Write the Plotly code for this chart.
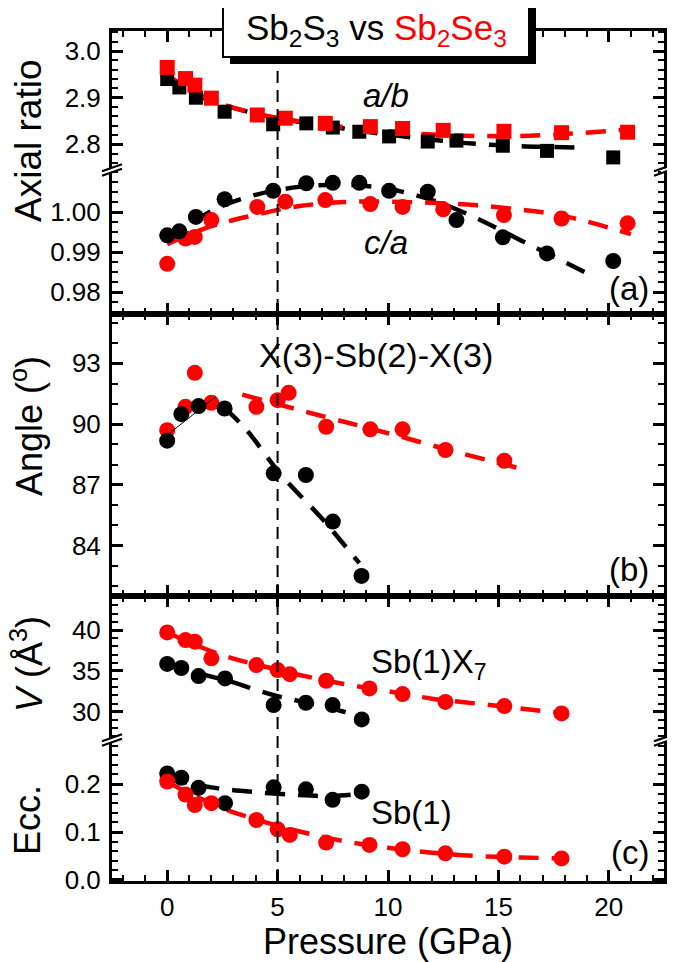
import plotly.graph_objects as go

# ---------------- data ----------------
# Panel (a): axial ratios
P_S = [0, 0.55, 1.3, 2.6, 4.8, 6.3, 7.5, 8.7, 10.05, 11.8, 13.1, 15.2, 17.2, 20.2]
AB_S = [2.940, 2.922, 2.900, 2.870, 2.843, 2.845, 2.836, 2.827, 2.817, 2.806, 2.808, 2.797, 2.786, 2.772]
CA_S = [0.9942, 0.9952, 0.9988, 1.0032, 1.0053, 1.0072, 1.0073, 1.0073, 1.0053, 1.0051, 0.9980, 0.9937, 0.9897, 0.9878]

P_SE = [0, 0.83, 1.25, 2.0, 4.08, 5.35, 7.16, 9.2, 10.66, 12.5, 15.25, 17.86, 20.85]
AB_SE = [2.965, 2.941, 2.927, 2.899, 2.863, 2.856, 2.845, 2.838, 2.834, 2.830, 2.828, 2.825, 2.826]
CA_SE = [0.9871, 0.9934, 0.9938, 0.9980, 1.0013, 1.0026, 1.0030, 1.0020, 1.0013, 1.0007, 0.99925, 0.9984, 0.9972]

# fit curves
FIT_AB_S_P = [0, 2, 4, 6, 8, 10, 12, 14, 16, 19]
FIT_AB_S = [2.936, 2.893, 2.866, 2.848, 2.834, 2.821, 2.810, 2.801, 2.796, 2.793]
FIT_AB_SE_P = [0, 2, 4, 6, 8, 10, 12, 14, 16, 18, 21]
FIT_AB_SE = [2.948, 2.895, 2.866, 2.849, 2.837, 2.828, 2.821, 2.818, 2.818, 2.822, 2.832]
FIT_CA_S_P = [0, 2, 4, 6, 8, 10, 12, 14, 16, 19]
FIT_CA_S = [0.9925, 1.0003, 1.0043, 1.0063, 1.0068, 1.0058, 1.0030, 0.9985, 0.9930, 0.9848]
FIT_CA_SE_P = [0, 2, 4, 6, 8, 10, 12, 14, 16, 18, 21]
FIT_CA_SE = [0.9920, 0.9965, 0.9993, 1.0015, 1.0025, 1.0026, 1.0023, 1.0017, 1.0006, 0.9990, 0.9945]

# Panel (b): X(3)-Sb(2)-X(3) angle
P_S_ANG = [0, 0.64, 1.42, 2.6, 4.82, 6.28, 7.5, 8.8]
ANG_S = [89.18, 90.49, 90.89, 90.77, 87.57, 87.49, 85.19, 82.51]
P_SE_ANG = [0, 0.83, 1.25, 2.0, 4.04, 5.0, 5.5, 7.2, 9.2, 10.66, 12.6, 15.27]
ANG_SE = [89.70, 90.85, 92.53, 91.05, 90.85, 91.18, 91.54, 89.87, 89.74, 89.74, 88.72, 88.19]

FIT_ANG_S_THIN_P = [0, 2.2]
FIT_ANG_S_THIN = [89.46, 91.35]
FIT_ANG_S_P = [2.6, 3.6, 5.1, 7.0, 8.7]
FIT_ANG_S = [90.80, 89.70, 87.57, 85.35, 83.14]
FIT_ANG_SE_P = [3.4, 7, 10, 13, 16.2]
FIT_ANG_SE = [91.45, 90.40, 89.55, 88.65, 87.75]

# Panel (c): Sb(1)X7 polyhedral volume and eccentricity
P_S_C = [0, 0.64, 1.42, 2.62, 4.82, 6.28, 7.49, 8.81]
V_S = [35.85, 35.35, 34.36, 34.08, 30.81, 31.10, 30.81, 29.06]
ECC_S = [0.222, 0.213, 0.192, 0.160, 0.193, 0.189, 0.167, 0.184]
P_SE_C = [0, 0.83, 1.25, 2.0, 4.04, 5.0, 5.55, 7.2, 9.16, 10.66, 12.6, 15.27, 17.86]
V_SE = [39.70, 38.77, 38.57, 36.53, 35.71, 35.10, 34.60, 33.79, 32.85, 32.16, 31.20, 30.69, 29.79]
ECC_SE = [0.205, 0.178, 0.156, 0.160, 0.125, 0.1056, 0.094, 0.078, 0.073, 0.064, 0.0556, 0.0486, 0.045]

FIT_V_S_P = [0, 1, 2, 3, 4, 5, 6, 7, 8, 9]
FIT_V_S = [35.7, 35.0, 34.3, 33.6, 32.7, 31.9, 31.3, 30.7, 30.0, 29.3]
FIT_V_SE_P = [0, 1, 2, 3, 4, 6, 8, 10, 12, 14, 16, 18]
FIT_V_SE = [39.7, 38.5, 37.4, 36.5, 35.8, 34.5, 33.4, 32.5, 31.6, 31.0, 30.4, 29.8]
FIT_E_S_P = [0, 2, 4, 6, 7.5, 9]
FIT_E_S = [0.212, 0.193, 0.183, 0.177, 0.175, 0.181]
FIT_E_SE_P = [0, 1, 2, 3, 4, 5, 6, 8, 10, 12, 14, 16, 18]
FIT_E_SE = [0.205, 0.180, 0.160, 0.141, 0.127, 0.113, 0.101, 0.081, 0.067, 0.057, 0.050, 0.047, 0.045]

TRANSITION_P = [5]

X_TICKS = [0, 5, 10, 15, 20]
AB_TICKS = [2.8, 2.9, 3.0]
CA_TICKS = [0.98, 0.99, 1.00]
ANG_TICKS = [84, 87, 90, 93]
V_TICKS = [30, 35, 40]
ECC_TICKS = [0.0, 0.1, 0.2]

BLACK = "#000000"
RED = "#ff0000"
FONT = "Liberation Sans, Arial, sans-serif"

# ---------------- geometry ----------------
# the page body has an 8px margin, so the figure is made 8px smaller and all
# reference-pixel positions are shifted by that amount
OFF = 8
W, H = 675 - OFF, 962 - OFF
ML, MR, MT, MB = 112 - OFF, 11, 31 - OFF, 81
PW, PH = W - ML - MR, H - MT - MB


def px(x):  # reference pixel -> paper
    return (x - OFF - ML) / PW


def py(y):  # reference pixel -> paper
    return (H - MB - (y - OFF)) / PH


Y_BREAK1 = 170
Y_AB = 314
Y_BC = 596
Y_BREAK2 = 740

D_AB = [py(Y_BREAK1), 1.0]
D_CA = [py(Y_AB), py(Y_BREAK1)]
D_ANG = [py(Y_BC), py(Y_AB)]
D_V = [py(Y_BREAK2), py(Y_BC)]
D_E = [0.0, py(Y_BREAK2)]

fig = go.Figure()

DASH = "20px,13px"


def markers(x, y, color, symbol, xa, ya, size):
    fig.add_trace(go.Scatter(x=x, y=y, mode="markers", xaxis=xa, yaxis=ya,
                             marker=dict(color=color, symbol=symbol, size=size,
                                         line=dict(width=0)),
                             showlegend=False, hoverinfo="skip"))


def fitline(x, y, color, xa, ya, dash=DASH, width=4.5):
    fig.add_trace(go.Scatter(x=x, y=y, mode="lines", xaxis=xa, yaxis=ya,
                             line=dict(color=color, width=width, dash=dash, shape="spline"),
                             showlegend=False, hoverinfo="skip"))


# panel a: a/b (x5, y) and c/a (x4, y2)
fitline(FIT_AB_S_P, FIT_AB_S, BLACK, "x5", "y")
fitline(FIT_AB_SE_P, FIT_AB_SE, RED, "x5", "y")
markers(P_S, AB_S, BLACK, "square", "x5", "y", 14)
markers(P_SE, AB_SE, RED, "square", "x5", "y", 15)

fitline(FIT_CA_S_P, FIT_CA_S, BLACK, "x4", "y2")
fitline(FIT_CA_SE_P, FIT_CA_SE, RED, "x4", "y2")
markers(P_SE, CA_SE, RED, "circle", "x4", "y2", 16)
markers(P_S, CA_S, BLACK, "circle", "x4", "y2", 16)

# panel b: angle (x3, y3)
fitline(FIT_ANG_SE_P, FIT_ANG_SE, RED, "x3", "y3")
fitline(FIT_ANG_S_P, FIT_ANG_S, BLACK, "x3", "y3")
markers(P_SE_ANG, ANG_SE, RED, "circle", "x3", "y3", 16)
fitline(FIT_ANG_S_THIN_P, FIT_ANG_S_THIN, BLACK, "x3", "y3", dash="solid", width=1)
markers(P_S_ANG, ANG_S, BLACK, "circle", "x3", "y3", 16)

# panel c: volume (x2, y4) and eccentricity (x, y5)
fitline(FIT_V_SE_P, FIT_V_SE, RED, "x2", "y4")
fitline(FIT_V_S_P, FIT_V_S, BLACK, "x2", "y4")
markers(P_SE_C, V_SE, RED, "circle", "x2", "y4", 16)
markers(P_S_C, V_S, BLACK, "circle", "x2", "y4", 16)

fitline(FIT_E_S_P, FIT_E_S, BLACK, "x", "y5")
fitline(FIT_E_SE_P, FIT_E_SE, RED, "x", "y5")
markers(P_S_C, ECC_S, BLACK, "circle", "x", "y5", 16)
markers(P_SE_C, ECC_SE, RED, "circle", "x", "y5", 16)

# ---------------- axes ----------------
TICKFONT = dict(family=FONT, size=26, color=BLACK)
XRANGE = [-2.5, 22.5]


def xaxis(anchor, side, mirror, labels, match=True):
    d = dict(range=XRANGE, domain=[0, 1], anchor=anchor, side=side, mirror=mirror,
             showline=True, linewidth=3, linecolor=BLACK, showgrid=False, zeroline=False,
             automargin=False,
             ticks="inside", ticklen=11, tickwidth=2.5, tickcolor=BLACK,
             tickmode="array", tickvals=X_TICKS, showticklabels=labels,
             tickfont=TICKFONT, ticklabelstandoff=1,
             minor=dict(ticks="inside", ticklen=6, tickwidth=2, tickcolor=BLACK,
                        dtick=1, tick0=0, showgrid=False))
    if match:
        d["matches"] = "x"
    return d


def yaxis(domain, rng, ticks, minor_dtick, fmt, anchor):
    return dict(domain=domain, range=rng, anchor=anchor, showline=True, linewidth=3,
                linecolor=BLACK, mirror="ticks", showgrid=False, zeroline=False,
                automargin=False,
                ticks="inside", ticklen=11, tickwidth=2.5, tickcolor=BLACK,
                tickmode="array", tickvals=ticks, tickformat=fmt,
                tickfont=TICKFONT, ticklabelstandoff=3,
                minor=dict(ticks="inside", ticklen=6, tickwidth=2, tickcolor=BLACK,
                           dtick=minor_dtick, tick0=0, showgrid=False))


fig.update_layout(
    width=W, height=H,
    margin=dict(l=ML, r=MR, t=MT, b=MB, pad=0, autoexpand=False),
    paper_bgcolor="white", plot_bgcolor="white",
    font=dict(family=FONT, color=BLACK),
    showlegend=False,
    xaxis=xaxis("y5", "bottom", False, True, match=False),
    xaxis2=xaxis("y4", "top", False, False),
    xaxis3=xaxis("y3", "bottom", "ticks", False),
    xaxis4=xaxis("y2", "bottom", False, False),
    xaxis5=xaxis("y", "top", False, False),
    yaxis=yaxis(D_AB, [2.745, 3.043], AB_TICKS, 0.02, ".1f", "x5"),
    yaxis2=yaxis(D_CA, [0.97458, 1.0105], CA_TICKS, 0.0025, ".2f", "x4"),
    yaxis3=yaxis(D_ANG, [81.52, 95.43], ANG_TICKS, 1, "d", "x3"),
    yaxis4=yaxis(D_V, [26.54, 44.16], V_TICKS, 1, "d", "x2"),
    yaxis5=yaxis(D_E, [-0.0021, 0.2917], ECC_TICKS, 0.02, ".1f", "x"),
)

# ---------------- shapes ----------------
shapes = []
# transition line at 5 GPa
for p in TRANSITION_P:
    shapes.append(dict(type="line", xref="x", yref="paper", x0=p, x1=p,
                       y0=0, y1=py(64), layer="above",
                       line=dict(color=BLACK, width=2, dash="12px,7px")))

# axis-break marks
for yb in (Y_BREAK1, Y_BREAK2):
    for xb in (0.0, 1.0):
        shapes.append(dict(type="rect", xref="paper", yref="paper",
                           xsizemode="pixel", ysizemode="pixel",
                           xanchor=xb, yanchor=py(yb),
                           x0=-3, x1=3, y0=-2, y1=2,
                           fillcolor="white", line=dict(width=0), layer="above"))
        for off in (-2.2, 2.2):
            shapes.append(dict(type="line", xref="paper", yref="paper",
                               xsizemode="pixel", ysizemode="pixel",
                               xanchor=xb, yanchor=py(yb),
                               x0=-10, x1=10, y0=off - 3.5, y1=off + 3.5,
                               line=dict(color=BLACK, width=2.2), layer="above"))

# title box with drop shadow
shapes.append(dict(type="rect", xref="paper", yref="paper",
                   x0=px(230), x1=px(536), y0=py(64), y1=py(7),
                   fillcolor=BLACK, line=dict(width=0), layer="above"))
shapes.append(dict(type="rect", xref="paper", yref="paper",
                   x0=px(223), x1=px(529), y0=py(57), y1=py(1),
                   fillcolor="white", line=dict(color=BLACK, width=2), layer="above"))
fig.update_layout(shapes=shapes)

# ---------------- text ----------------
ann = []


def text(t, x, y, size, xanchor="center", angle=0):
    ann.append(dict(text=t, xref="paper", yref="paper", x=px(x), y=py(y),
                    xanchor=xanchor, yanchor="middle", showarrow=False,
                    textangle=angle, font=dict(family=FONT, size=size, color=BLACK)))


text("Sb<sub>2</sub>S<sub>3</sub> vs <span style='color:#ff0000'>Sb<sub>2</sub>Se<sub>3</sub></span>",
     376, 30, 35)
text("<i>a/b</i>", 386, 95, 33)
text("<i>c/a</i>", 386, 242, 33)
text("(a)", 651, 288, 33, xanchor="right")
text("X(3)-Sb(2)-X(3)", 376, 355, 34)
text("(b)", 651, 570, 33, xanchor="right")
text("Sb(1)X<sub>7</sub>", 369, 664, 33, xanchor="left")
text("Sb(1)", 369, 812, 33, xanchor="left")
text("(c)", 651, 852, 33, xanchor="right")
text("Pressure (GPa)", 388, 941, 36)
text("Axial ratio", 28, 141, 37, angle=-90)
text("Angle (<sup>o</sup>)", 27, 426, 36, angle=-90)
text("<i>V</i> (Å<sup>3</sup>)", 27, 664, 36, angle=-90)
text("Ecc.", 27, 820, 36, angle=-90)
fig.update_layout(annotations=ann)

fig.write_html("out.html")
